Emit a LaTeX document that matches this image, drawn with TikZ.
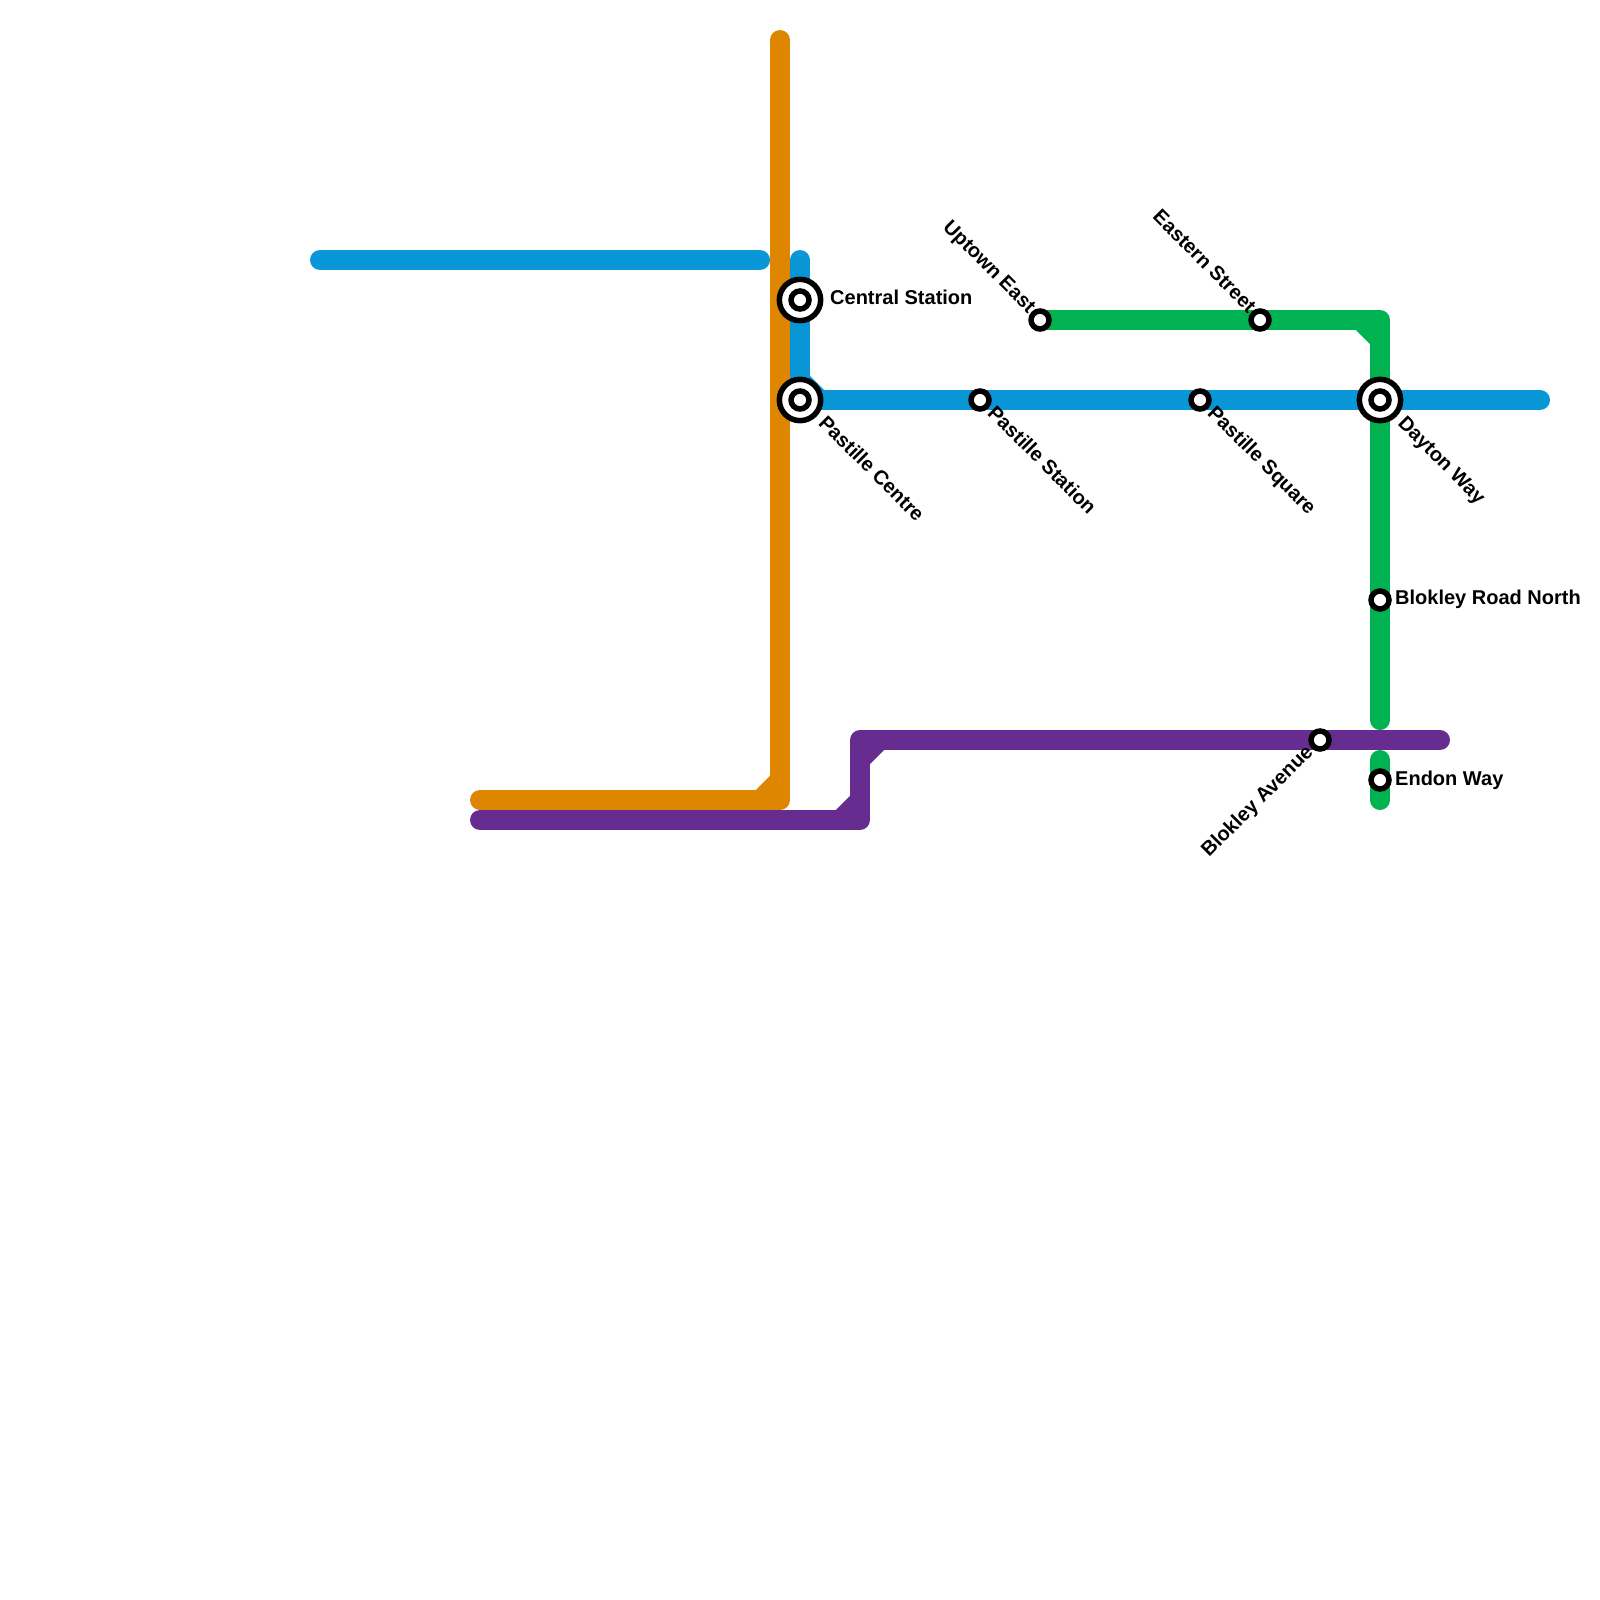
\documentclass[tikz,border=0pt]{standalone}
\usepackage{fontspec}
\setmainfont{Liberation Sans}
\usetikzlibrary{positioning, calc, backgrounds}
\definecolor{cBlue}{HTML}{0896D7}
\definecolor{cOrange}{HTML}{DF8600}
\definecolor{cGreen}{HTML}{00B251}
\definecolor{cPurple}{HTML}{662C90}

\begin{document}
\begin{tikzpicture}[x=1pt,y=-1pt,on grid,
  route/.style={line width=20pt,line cap=round,line join=round},
  stn/.style={circle,draw=black,line width=5.5pt,fill=white,minimum size=18pt,inner sep=0pt},
  hub/.style={circle,draw=black,line width=5.5pt,fill=white,minimum size=41.3pt,inner sep=0pt},
  lbl/.style={font=\bfseries\fontsize{20}{24}\selectfont,inner sep=0pt,anchor=base west},
  lblse/.style={lbl,rotate=-45},
  lblnw/.style={lbl,rotate=-45,anchor=base east},
  lblsw/.style={lbl,rotate=45,anchor=base east}]
  \useasboundingbox (0,0) rectangle (1600,1600);
  % stations
  \node[hub] (central) at (800,300) {};
  \node[stn] (centralIn) at (central) {};
  \node[hub, below=100pt of central] (pastille) {};
  \node[stn] (pastilleIn) at (pastille) {};
  \node[stn, right=180pt of pastille] (pasStn) {};
  \node[stn, right=220pt of pasStn] (pasSq) {};
  \node[hub, right=180pt of pasSq] (dayton) {};
  \node[stn] (daytonIn) at (dayton) {};
  \node[stn, below=200pt of dayton] (blokRd) {};
  \node[stn, below=380pt of dayton] (endon) {};
  \node[stn, left=60pt of blokRd, yshift=-140pt] (blokAv) {};
  \node[stn, above=80pt of pasStn, xshift=60pt] (uptown) {};
  \node[stn, right=220pt of uptown] (eastern) {};
  % line ends and corners
  \coordinate (blueA) at (320,260); \coordinate (blueB) at (760,260);
  \coordinate (blueC) at (800,260); \coordinate (blueD) at (1540,400);
  \coordinate (blueE) at (800,380); \coordinate (blueF) at (820,400);
  \coordinate (orgA) at (780,40); \coordinate (orgB) at (780,800); \coordinate (orgC) at (480,800);
  \coordinate (orgD) at (780,780); \coordinate (orgE) at (760,800);
  \coordinate (grnA) at (1380,320); \coordinate (grnB) at (1380,720); \coordinate (grnC) at (1380,760);
  \coordinate (grnD) at (1380,800); \coordinate (grnE) at (1360,320); \coordinate (grnF) at (1380,340);
  \coordinate (purA) at (480,820); \coordinate (purB) at (860,820); \coordinate (purC) at (860,740);
  \coordinate (purD) at (1440,740); \coordinate (purE) at (840,820); \coordinate (purF) at (860,800);
  \coordinate (purG) at (860,760); \coordinate (purH) at (880,740);
  \begin{pgfonlayer}{background}
    \draw[route,cGreen] (uptown.center) -- (grnA) -- (grnB); \draw[route,cGreen] (grnE) -- (grnF); \draw[route,cGreen] (grnC) -- (grnD);
    \draw[route,cBlue] (blueA) -- (blueB); \draw[route,cBlue] (blueC) -- (pastille.center) -- (blueD |- pastille.center); \draw[route,cBlue] (blueE) -- (blueF);
    \draw[route,cOrange] (orgA) -- (orgB) -- (orgC); \draw[route,cOrange] (orgD) -- (orgE);
    \draw[route,cPurple] (purA) -- (purB) -- (purC) -- (purD); \draw[route,cPurple] (purE) -- (purF); \draw[route,cPurple] (purG) -- (purH);
  \end{pgfonlayer}
  % labels
  \node[lbl] (lCentral) at ($(central)+(30,4.5)$) {Central Station};
  \node[lbl] (lBlokRd) at ($(blokRd)+(15,4.5)$) {Blokley Road North};
  \node[lbl] (lEndon) at ($(endon)+(15,5)$) {Endon Way};
  \node[lblse] (lPastille) at ($(pastille)+(17.5,24)$) {Pastille Centre};
  \node[lblse] (lPasStn) at ($(pasStn)+(6.5,14)$) {Pastille Station};
  \node[lblse] (lPasSq) at ($(pasSq)+(6.5,14)$) {Pastille Square};
  \node[lblse] (lDayton) at ($(dayton)+(17,24.5)$) {Dayton Way};
  \node[lblnw] (lUptown) at ($(uptown)+(-12,-6)$) {Uptown East};
  \node[lblnw] (lEastern) at ($(eastern)+(-12,-6)$) {Eastern Street};
  \node[lblsw] (lBlokAv) at ($(blokAv)+(-6,13)$) {Blokley Avenue};
\end{tikzpicture}
\end{document}
